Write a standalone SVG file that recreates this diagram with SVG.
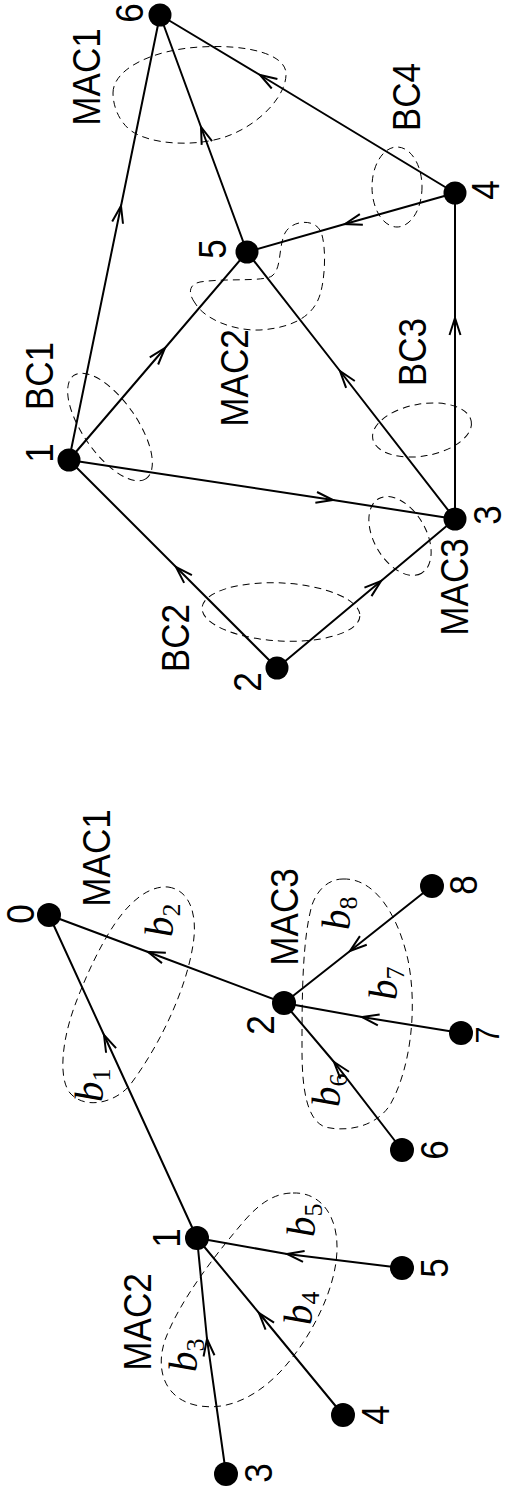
<svg xmlns="http://www.w3.org/2000/svg" width="508" height="1495" viewBox="0 0 508 1495">
<style>
.e{fill:none;stroke:#000;stroke-width:2;marker-mid:url(#arr)}
.n{fill:#000}
.d{fill:none;stroke:#000;stroke-width:1;stroke-dasharray:7,5}
.t{font-family:"Liberation Sans",Arial,sans-serif;font-size:39px;fill:#000;text-anchor:middle}
.b{font-family:"Liberation Serif","Times New Roman",serif;font-style:italic;font-size:41px;fill:#000}
.s{font-style:normal;font-size:26px}
</style>
<defs>
<marker id="arr" markerUnits="userSpaceOnUse" viewBox="-20 -8 22 16" refX="0" refY="0" markerWidth="22" markerHeight="16" orient="auto" overflow="visible">
<path d="M -17 -5.5 L 0 0 L -17 5.5" fill="none" stroke="#000" stroke-width="2"/>
</marker>
</defs>
<rect width="508" height="1495" fill="#fff"/>
<g id="connectors">
<path class="e" d="M 69 460 L 121 206 L 160 15"/>
<path class="e" d="M 247 252 L 201 127 L 160 15"/>
<path class="e" d="M 455 193 L 260 75 L 160 15"/>
<path class="e" d="M 455 193 L 345 224 L 247 252"/>
<path class="e" d="M 69 460 L 165 348 L 247 252"/>
<path class="e" d="M 455 519 L 340 371 L 247 252"/>
<path class="e" d="M 455 519 L 455 318 L 455 193"/>
<path class="e" d="M 69 460 L 333 500 L 455 519"/>
<path class="e" d="M 277 668 L 176 567 L 69 460"/>
<path class="e" d="M 277 668 L 381 581 L 455 519"/>
<path class="e" d="M 197 1238 L 104 1035 L 49 915"/>
<path class="e" d="M 284 1003 L 148 952 L 49 915"/>
<path class="e" d="M 432 886 L 350 951 L 284 1003"/>
<path class="e" d="M 461 1033 L 362 1017 L 284 1003"/>
<path class="e" d="M 402 1150 L 334 1062 L 284 1003"/>
<path class="e" d="M 402 1268 L 287 1254 L 197 1238"/>
<path class="e" d="M 343 1415 L 259 1313 L 197 1238"/>
<path class="e" d="M 226 1474 L 207 1339 L 197 1238"/>
</g>
<g id="groups">
<path class="d" d="M 113 93 C 113 70 150 50 200 47 C 250 44 285 55 286 73 C 287 95 260 125 225 137 C 195 147 150 145 130 130 C 118 120 113 105 113 93 Z"/>
<ellipse class="d" cx="397" cy="187" rx="25" ry="40"/>
<path class="d" d="M 195 303 C 187 292 190 284 200 282 C 225 278 262 282 272 276 C 282 268 278 248 285 233 C 292 220 315 218 321 232 C 327 248 325 285 318 300 C 310 318 290 328 260 330 C 235 331 205 320 195 303 Z"/>
<ellipse class="d" cx="110" cy="427" rx="63" ry="27" transform="rotate(55 110 427)"/>
<ellipse class="d" cx="422" cy="430" rx="50" ry="26" transform="rotate(-10 422 430)"/>
<ellipse class="d" cx="400" cy="536" rx="43" ry="26" transform="rotate(60 400 536)"/>
<ellipse class="d" cx="281" cy="612" rx="79" ry="29" transform="rotate(3 281 612)"/>
<path class="d" d="M 168 887 C 190 890 198 915 193 945 C 186 990 160 1045 130 1085 C 115 1103 85 1110 70 1093 C 58 1078 62 1040 75 1005 C 90 965 110 925 130 905 C 142 893 155 886 168 887 Z"/>
<path class="d" d="M 343 879 C 375 878 398 915 408 960 C 418 1010 410 1070 390 1105 C 375 1128 345 1132 325 1127 C 307 1120 302 1090 302 1050 C 302 1000 302 940 312 905 C 318 888 330 879 343 879 Z"/>
<path class="d" d="M 293 1193 C 320 1192 338 1215 337 1250 C 336 1290 310 1340 280 1372 C 255 1398 225 1412 195 1405 C 165 1398 155 1370 165 1340 C 180 1300 215 1255 245 1220 C 260 1203 275 1193 293 1193 Z"/>
</g>
<g id="group-labels">
<text class="t" transform="translate(86 77) rotate(-90) scale(0.9 1)" y="14">MAC1</text>
<text class="t" transform="translate(406 97) rotate(-90) scale(0.9 1)" y="14">BC4</text>
<text class="t" transform="translate(412 352) rotate(-90) scale(0.9 1)" y="14">BC3</text>
<text class="t" transform="translate(234 378) rotate(-90) scale(0.9 1)" y="14">MAC2</text>
<text class="t" transform="translate(39 376) rotate(-90) scale(0.9 1)" y="14">BC1</text>
<text class="t" transform="translate(175 638) rotate(-90) scale(0.9 1)" y="14">BC2</text>
<text class="t" transform="translate(454 587) rotate(-90) scale(0.9 1)" y="14">MAC3</text>
<text class="t" transform="translate(96 858) rotate(-90) scale(0.9 1)" y="14">MAC1</text>
<text class="t" transform="translate(284 917) rotate(-90) scale(0.9 1)" y="14">MAC3</text>
<text class="t" transform="translate(137 1322) rotate(-90) scale(0.9 1)" y="14">MAC2</text>
<text class="b" transform="translate(103 1102) rotate(-90)">b<tspan class="s" dy="7">1</tspan></text>
<text class="b" transform="translate(173 937) rotate(-90)">b<tspan class="s" dy="7">2</tspan></text>
<text class="b" transform="translate(350 930) rotate(-90)">b<tspan class="s" dy="7">8</tspan></text>
<text class="b" transform="translate(397 1000) rotate(-90)">b<tspan class="s" dy="7">7</tspan></text>
<text class="b" transform="translate(340 1107) rotate(-90)">b<tspan class="s" dy="7">6</tspan></text>
<text class="b" transform="translate(315 1237) rotate(-90)">b<tspan class="s" dy="7">5</tspan></text>
<text class="b" transform="translate(312 1325) rotate(-90)">b<tspan class="s" dy="7">4</tspan></text>
<text class="b" transform="translate(197 1372) rotate(-90)">b<tspan class="s" dy="7">3</tspan></text>
</g>
<g id="top-n6"><circle class="n" cx="160" cy="15" r="11.5"/><text class="t" transform="translate(129 13) rotate(-90) scale(0.9 1)" y="14">6</text></g>
<g id="top-n4"><circle class="n" cx="455" cy="193" r="11.5"/><text class="t" transform="translate(485 190) rotate(-90) scale(0.9 1)" y="14">4</text></g>
<g id="top-n5"><circle class="n" cx="247" cy="252" r="11.5"/><text class="t" transform="translate(212 249) rotate(-90) scale(0.9 1)" y="14">5</text></g>
<g id="top-n1"><circle class="n" cx="69" cy="460" r="11.5"/><text class="t" transform="translate(39 453) rotate(-90) scale(0.9 1)" y="14">1</text></g>
<g id="top-n3"><circle class="n" cx="455" cy="519" r="11.5"/><text class="t" transform="translate(487 515) rotate(-90) scale(0.9 1)" y="14">3</text></g>
<g id="top-n2"><circle class="n" cx="277" cy="668" r="11.5"/><text class="t" transform="translate(247 682) rotate(-90) scale(0.9 1)" y="14">2</text></g>
<g id="bot-n0"><circle class="n" cx="49" cy="915" r="12"/><text class="t" transform="translate(20 914) rotate(-90) scale(0.9 1)" y="14">0</text></g>
<g id="bot-n2"><circle class="n" cx="284" cy="1003" r="12"/><text class="t" transform="translate(260 1025) rotate(-90) scale(0.9 1)" y="14">2</text></g>
<g id="bot-n8"><circle class="n" cx="432" cy="886" r="12"/><text class="t" transform="translate(463 885) rotate(-90) scale(0.9 1)" y="14">8</text></g>
<g id="bot-n7"><circle class="n" cx="461" cy="1033" r="12"/><text class="t" style="font-size:34px" transform="translate(487 1035) rotate(-90) scale(0.9 1)" y="12">7</text></g>
<g id="bot-n6"><circle class="n" cx="402" cy="1150" r="12"/><text class="t" transform="translate(434 1150) rotate(-90) scale(0.9 1)" y="14">6</text></g>
<g id="bot-n1"><circle class="n" cx="197" cy="1238" r="12"/><text class="t" transform="translate(166 1238) rotate(-90) scale(0.9 1)" y="14">1</text></g>
<g id="bot-n5"><circle class="n" cx="402" cy="1268" r="12"/><text class="t" transform="translate(434 1268) rotate(-90) scale(0.9 1)" y="14">5</text></g>
<g id="bot-n4"><circle class="n" cx="343" cy="1415" r="12"/><text class="t" transform="translate(375 1415) rotate(-90) scale(0.9 1)" y="14">4</text></g>
<g id="bot-n3"><circle class="n" cx="226" cy="1474" r="12"/><text class="t" transform="translate(258 1473) rotate(-90) scale(0.9 1)" y="14">3</text></g>
</svg>
